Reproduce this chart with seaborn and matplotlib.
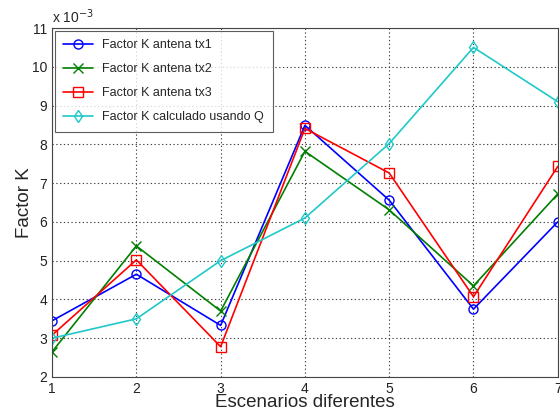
import pandas as pd
import seaborn as sns
import matplotlib.pyplot as plt

# valores (x 10^-3)
escenarios = [1, 2, 3, 4, 5, 6, 7]
k_tx1 = [3.45, 4.65, 3.33, 8.49, 6.56, 3.75, 6.0]
k_tx2 = [2.65, 5.38, 3.70, 7.82, 6.31, 4.35, 6.72]
k_tx3 = [3.08, 5.02, 2.78, 8.41, 7.26, 4.07, 7.43]
k_q = [3.0, 3.5, 5.0, 6.1, 8.02, 10.5, 9.1]

series = [
    ("Factor K antena tx1", k_tx1, "blue", "o"),
    ("Factor K antena tx2", k_tx2, "green", "x"),
    ("Factor K antena tx3", k_tx3, "red", "s"),
    ("Factor K calculado usando Q", k_q, "#20c8c8", "d"),
]

sns.set_style("white")
plt.rcParams['font.family'] = ['Liberation Sans', 'DejaVu Sans']

fig = plt.figure(figsize=(5.6, 4.12), dpi=100)
ax = fig.add_axes([0.093, 0.085, 0.903, 0.847])

for name, vals, color, mk in series:
    df = pd.DataFrame({"Escenario": escenarios, "K": vals})
    sns.lineplot(data=df, x="Escenario", y="K", ax=ax, color=color, marker=mk,
                 markersize=6.5 if mk != "x" else 7.5, markerfacecolor="none",
                 markeredgecolor=color, markeredgewidth=1.0, linewidth=1.2,
                 label=name)

ax.set_xlim(1, 7)
ax.set_ylim(2, 11)
ax.set_xticks(range(1, 8))
ax.set_yticks(range(2, 12))
ax.tick_params(direction="in", labelsize=10, length=4, colors="#222222")
ax.grid(True, linestyle=(0, (1.2, 2.2)), color="#444444", linewidth=0.8)
for sp in ax.spines.values():
    sp.set_color("#444444")
    sp.set_linewidth(0.8)

ax.set_xlabel("Escenarios diferentes", fontsize=13.5, labelpad=-1)
ax.set_ylabel("Factor K", fontsize=13.5, labelpad=-1)
ax.text(0.0, 1.005, "x 10$^{-3}$", transform=ax.transAxes, fontsize=10,
        ha="left", va="bottom")

leg = ax.legend(loc="upper left", fontsize=9, frameon=True, fancybox=False,
                edgecolor="#333333", borderaxespad=0.2, handlelength=2.4,
                handletextpad=0.7, labelspacing=0.95, borderpad=0.7)
leg.get_frame().set_linewidth(0.8)

fig.savefig("out.png", dpi=100)
